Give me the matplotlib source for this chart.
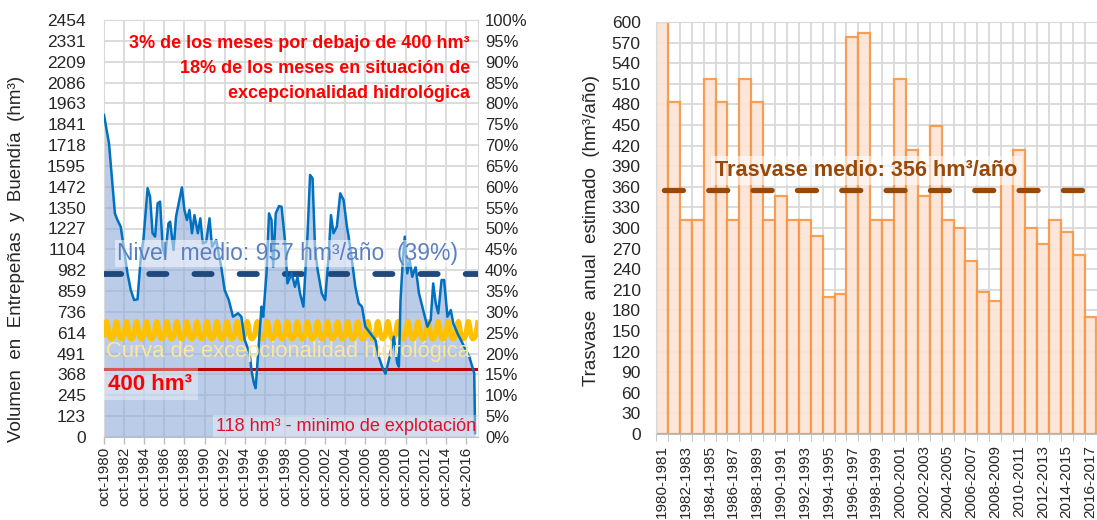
import matplotlib
matplotlib.use("Agg")
import matplotlib.pyplot as plt
import numpy as np
import pandas as pd

plt.rcParams['font.family'] = ['Liberation Sans', 'DejaVu Sans']

# ---------------- left panel: volumen Entrepeñas + Buendía (hm3)
vol_dates = [
    "1980-10", "1981-04", "1981-08", "1981-11", "1982-02", "1982-06", "1982-10",
    "1983-02", "1983-06", "1983-10", "1984-02", "1984-06", "1984-09", "1985-02",
    "1985-05", "1985-08", "1985-11", "1986-02", "1986-05", "1986-08", "1986-11",
    "1987-03", "1987-05", "1987-09", "1987-12", "1988-04", "1988-07", "1988-10",
    "1989-01", "1989-04", "1989-07", "1989-10", "1990-02", "1990-05", "1990-08",
    "1990-12", "1991-04", "1991-07", "1991-12", "1992-06", "1992-10", "1993-03",
    "1993-08", "1994-02", "1994-06", "1994-10", "1995-04", "1995-06", "1995-09",
    "1995-11", "1996-02", "1996-06", "1996-08", "1996-12", "1997-03", "1997-06",
    "1997-08", "1997-11", "1998-03", "1998-06", "1998-10", "1999-01", "1999-06",
    "1999-10", "2000-01", "2000-04", "2000-08", "2001-01", "2001-04", "2001-07",
    "2001-10", "2002-01", "2002-06", "2002-10", "2003-02", "2003-05", "2003-08",
    "2003-12", "2004-04", "2004-08", "2004-12", "2005-02", "2005-06", "2005-10",
    "2006-02", "2006-06", "2006-10", "2007-04", "2007-10", "2008-02", "2008-06",
    "2008-10", "2009-02", "2009-08", "2009-12", "2010-02", "2010-04", "2010-07",
    "2010-09", "2010-12", "2011-03", "2011-06", "2011-10", "2012-02", "2012-08",
    "2012-12", "2013-04", "2013-07", "2013-10", "2014-01", "2014-05", "2014-08",
    "2014-12", "2015-04", "2015-07", "2015-12", "2016-04", "2016-08", "2017-02",
    "2017-08", "2017-09",
]
vol_values = [
    1895, 1728, 1493, 1316, 1277, 1238, 1100,
    963, 865, 806, 810, 1061, 1159, 1464,
    1414, 1199, 1179, 1375, 1385, 1120, 1061,
    1257, 1267, 1100, 1296, 1395, 1469, 1336,
    1277, 1336, 1199, 1306, 1199, 1287, 1139,
    1149, 1287, 1120, 1159, 1000, 865, 806,
    708, 728, 708, 571, 493, 394, 316,
    287, 493, 767, 708, 963, 1316, 1277,
    1002, 1316, 1359, 1355, 1159, 904, 963,
    884, 943, 845, 767, 1199, 1542, 1522,
    1100, 983, 845, 806, 1061, 1306, 1199,
    1238, 1434, 1395, 1238, 1179, 1040, 884,
    787, 767, 649, 610, 571, 473, 414,
    372, 453, 590, 434, 414, 806, 1061,
    1179, 963, 1042, 943, 1002, 845, 728,
    649, 689, 904, 787, 728, 924, 924,
    708, 747, 669, 610, 571, 532, 473,
    375, 22,
]

# curva de excepcionalidad: one value per calendar month (oct..sep)
curve_months = [10, 11, 12, 1, 2, 3, 4, 5, 6, 7, 8, 9]
curve_values = [600, 640, 672, 680, 665, 635, 605, 585, 578, 578, 582, 590]

mean_volume = 957
limit_volume = 400

vol_ticks = [0, 123, 245, 368, 491, 614, 736, 859, 982, 1104, 1227, 1350,
             1472, 1595, 1718, 1841, 1963, 2086, 2209, 2331, 2454]
pct_ticks = list(range(0, 101, 5))
date_tick_labels = ["oct-1980", "oct-1982", "oct-1984", "oct-1986", "oct-1988",
                    "oct-1990", "oct-1992", "oct-1994", "oct-1996", "oct-1998",
                    "oct-2000", "oct-2002", "oct-2004", "oct-2006", "oct-2008",
                    "oct-2010", "oct-2012", "oct-2014", "oct-2016"]

# ---------------- right panel: trasvase anual estimado (hm3/año)
seasons = ["1980-1981", "1981-1982", "1982-1983", "1983-1984", "1984-1985",
           "1985-1986", "1986-1987", "1987-1988", "1988-1989", "1989-1990",
           "1990-1991", "1991-1992", "1992-1993", "1993-1994", "1994-1995",
           "1995-1996", "1996-1997", "1997-1998", "1998-1999", "1999-2000",
           "2000-2001", "2001-2002", "2002-2003", "2003-2004", "2004-2005",
           "2005-2006", "2006-2007", "2007-2008", "2008-2009", "2009-2010",
           "2010-2011", "2011-2012", "2012-2013", "2013-2014", "2014-2015",
           "2015-2016", "2016-2017"]
transfer = [600, 483, 312, 312, 517, 483, 312, 517, 483, 312,
            347, 312, 312, 289, 200, 204, 578, 584, 312, 312,
            517, 414, 347, 448, 312, 300, 252, 207, 193, 385,
            414, 300, 276, 312, 294, 260, 171]
mean_transfer = 356

GRID = '#d9d9d9'
TXT = '#262626'

W, H = 1097, 520
fig = plt.figure(figsize=(W / 100, H / 100), dpi=100)

# ======================= left chart =======================
ax = fig.add_axes([104 / W, 83 / H, 374 / W, 417 / H])
dates = pd.to_datetime(vol_dates)
ax.fill_between(dates, 0, vol_values, color='#8eaadb', alpha=0.6, lw=0, zorder=1)
ax.plot(dates, vol_values, color='#0070c0', lw=1.8, zorder=5)

curve_by_month = dict(zip(curve_months, curve_values))
curve_dates = pd.date_range('1980-10-01', '2017-12-01', freq='MS')
curve = [curve_by_month[d.month] for d in curve_dates]
ax.plot(curve_dates, curve, color='#ffc000', lw=3.6, zorder=3)

ax.axhline(limit_volume, color='#c00000', lw=2.2, zorder=3)
ax.axhline(mean_volume, color='#1f497d', lw=4.2, dashes=(2.95, 4.8),
           dash_capstyle='round', zorder=4)

ax.set_xlim(pd.Timestamp('1980-10-01'), pd.Timestamp('2017-12-15'))
ax.set_ylim(0, 2454)
ax.set_yticks(vol_ticks)
ax.set_yticklabels([str(v) for v in vol_ticks])
tick_dates = pd.date_range('1980-10-01', '2016-10-01', freq='24MS')
ax.set_xticks(tick_dates)
ax.set_xticklabels(date_tick_labels, rotation=90)
ax.grid(True, color=GRID, lw=1.3, zorder=0)
ax.set_axisbelow(True)
ax.tick_params(axis='y', length=0, pad=13, labelsize=12.5, colors=TXT)
ax.tick_params(axis='x', length=5, width=1, color='#bfbfbf', pad=2,
               labelsize=11, labelcolor=TXT)
for s in ax.spines.values():
    s.set_color(GRID)
ax.spines['bottom'].set_color('#bfbfbf')

ax2 = ax.twinx()
ax2.set_ylim(0, 100)
ax2.set_yticks(pct_ticks)
ax2.set_yticklabels([f'{p}%' for p in pct_ticks])
ax2.tick_params(axis='y', length=0, pad=5, labelsize=12, colors=TXT)
for s in ax2.spines.values():
    s.set_visible(False)

ax.text(0.978, 0.963,
        "3% de los meses por debajo de 400 hm³\n18% de los meses en situación de\n"
        "excepcionalidad hidrológica",
        transform=ax.transAxes, ha='right', va='top', color='#ff0000',
        fontsize=13, fontweight='bold', linespacing=1.58, zorder=6)
ax.text(0.49, 0.441, "Nivel  medio: 957 hm³/año  (39%)", transform=ax.transAxes,
        ha='center', va='center', color='#5a80c0', fontsize=16.5, zorder=6,
        bbox=dict(facecolor='white', alpha=0.5, edgecolor='none', pad=1.5))
ax.text(0.493, 0.204, "Curva de excepcionalidad hidrológica", transform=ax.transAxes,
        ha='center', va='center', color='#ffe699', fontsize=15.8, zorder=6)
ax.text(0.012, 0.127, "400 hm³", transform=ax.transAxes, ha='left', va='center',
        color='#ff0000', fontsize=16, fontweight='bold', zorder=6,
        bbox=dict(facecolor='white', alpha=0.35, edgecolor='none', pad=4))
ax.text(0.995, 0.026, "118 hm³ - minimo de explotación", transform=ax.transAxes,
        ha='right', va='center', color='#e0102a', fontsize=13, zorder=6,
        bbox=dict(facecolor='white', alpha=0.35, edgecolor='none', pad=2))

fig.text(17 / W, 1 - 259 / H, "Volumen  en  Entrepeñas  y  Buendía  (hm³)",
         rotation=90, ha='center', va='center', fontsize=13.5, color=TXT)

# ======================= right chart =======================
bx = fig.add_axes([656 / W, 86 / H, 441 / W, 412 / H])
pos = np.arange(len(seasons))
bx.bar(pos, transfer, width=1.0, color='#fce4d6', alpha=0.9,
       edgecolor='#f79646', lw=1.6, zorder=2)
bx.axhline(mean_transfer, color='#984807', lw=3.8, linestyle=(6.9, (3.6, 4.8)),
           dash_capstyle='round', zorder=4)
bx.set_xlim(-0.5, 36.55)
bx.set_ylim(0, 600)
bx.set_yticks(np.arange(0, 601, 30))
bx.set_xticks(pos[::2])
bx.set_xticklabels(seasons[::2], rotation=90)
bx.set_xticks(pos - 0.5, minor=True)
bx.grid(True, axis='y', color=GRID, lw=1.3, zorder=0)
bx.grid(True, axis='x', which='minor', color=GRID, lw=1.3, zorder=0)
bx.set_axisbelow(True)
bx.tick_params(axis='y', length=0, pad=11, labelsize=12.5, colors=TXT)
bx.tick_params(axis='x', which='major', length=0, pad=8, labelsize=11, labelcolor=TXT)
bx.tick_params(axis='x', which='minor', length=5, color='#bfbfbf')
for s in bx.spines.values():
    s.set_color(GRID)
bx.spines['bottom'].set_color('#bfbfbf')

bx.text(17.2, 384, "Trasvase medio: 356 hm³/año", ha='center', va='center',
        color='#984807', fontsize=15.6, fontweight='bold', zorder=6,
        bbox=dict(facecolor='white', alpha=0.55, edgecolor='none', pad=3))

fig.text(591 / W, 1 - 230 / H, "Trasvase  anual  estimado  (hm³/año)",
         rotation=90, ha='center', va='center', fontsize=13.5, color=TXT)

fig.savefig('out.png', dpi=100)
